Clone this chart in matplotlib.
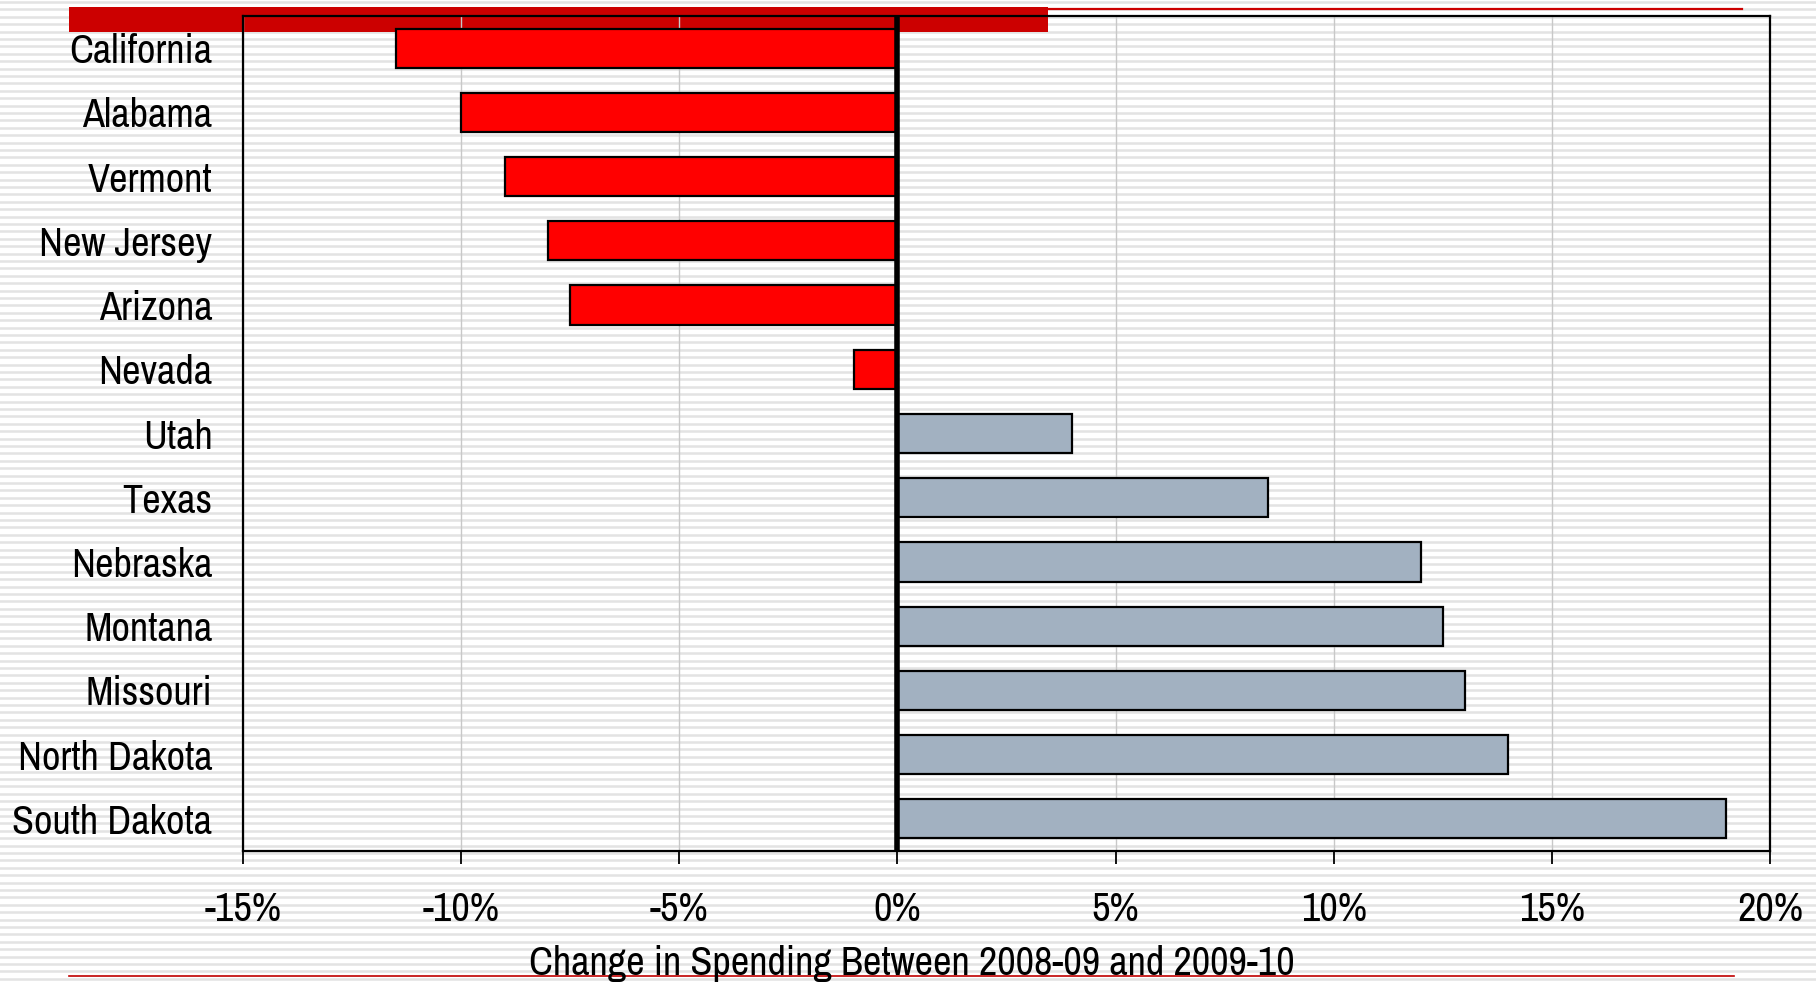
import numpy as np
import matplotlib
matplotlib.use('Agg')
import matplotlib.pyplot as plt
from matplotlib.patches import Rectangle

plt.rcParams['font.family'] = ['Archivo Narrow', 'Liberation Sans', 'DejaVu Sans']

# data
states = ['California', 'Alabama', 'Vermont', 'New Jersey', 'Arizona', 'Nevada',
          'Utah', 'Texas', 'Nebraska', 'Montana', 'Missouri', 'North Dakota',
          'South Dakota']
changes = [-11.5, -10.0, -9.0, -8.0, -7.5, -1.0,
           4.0, 8.5, 12.0, 12.5, 13.0, 14.0, 19.0]
xticks = [-15, -10, -5, 0, 5, 10, 15, 20]
xlabel = 'Change in Spending Between 2008-09 and 2009-10'

W, H = 1816, 982
fig = plt.figure(figsize=(W / 100, H / 100), dpi=100)
fig.patch.set_facecolor('white')

# background: striped slide with red header bar and rules (pixel coords)
bg = fig.add_axes([0, 0, 1, 1], zorder=0)
bg.set_xlim(0, W)
bg.set_ylim(H, 0)
bg.axis('off')
for y in np.arange(2, H, 7.4):
    bg.axhline(y, color='#e3e3e3', lw=1.8, zorder=0)
bg.add_patch(Rectangle((69, 7), 1048 - 69, 25, color='#cc0000', lw=0, zorder=2))
bg.plot([1048, 1742], [8.5, 8.5], color='#cc0000', lw=1.6, zorder=2)
bg.plot([69, 1734], [976, 976], color='#c00000', lw=1.2, zorder=2)

# main chart
ax = fig.add_axes([243 / W, 1 - 851 / H, (1770 - 243) / W, (851 - 16) / H], zorder=1)
ax.patch.set_alpha(0)

y = np.arange(len(states))
colors = ['#ff0000' if v < 0 else '#a2b1c1' for v in changes]
ax.barh(y, changes, height=0.61, color=colors, edgecolor='black', linewidth=1.6, zorder=3)

ax.set_ylim(len(states) - 0.5, -0.5)
ax.set_xlim(-15, 20)
ax.axvline(0, color='black', lw=4, zorder=4)
ax.set_xticks(xticks)
ax.set_xticklabels(['%d%%' % t for t in xticks])
ax.set_yticks(y)
ax.set_yticklabels(states)
ax.grid(axis='x', color='#c8c8c8', lw=1, zorder=1)
ax.set_axisbelow(True)

for s in ax.spines.values():
    s.set_linewidth(1.6)
    s.set_color('black')

ax.tick_params(axis='x', direction='out', length=9, width=1.3, pad=20, labelsize=29)
ax.tick_params(axis='y', length=0, pad=22, labelsize=29)
ax.set_xlabel(xlabel, fontsize=29)
ax.xaxis.set_label_coords(0.438, -0.135)
ax.xaxis.label.set_va('center')

plt.savefig('out.png', dpi=100)
